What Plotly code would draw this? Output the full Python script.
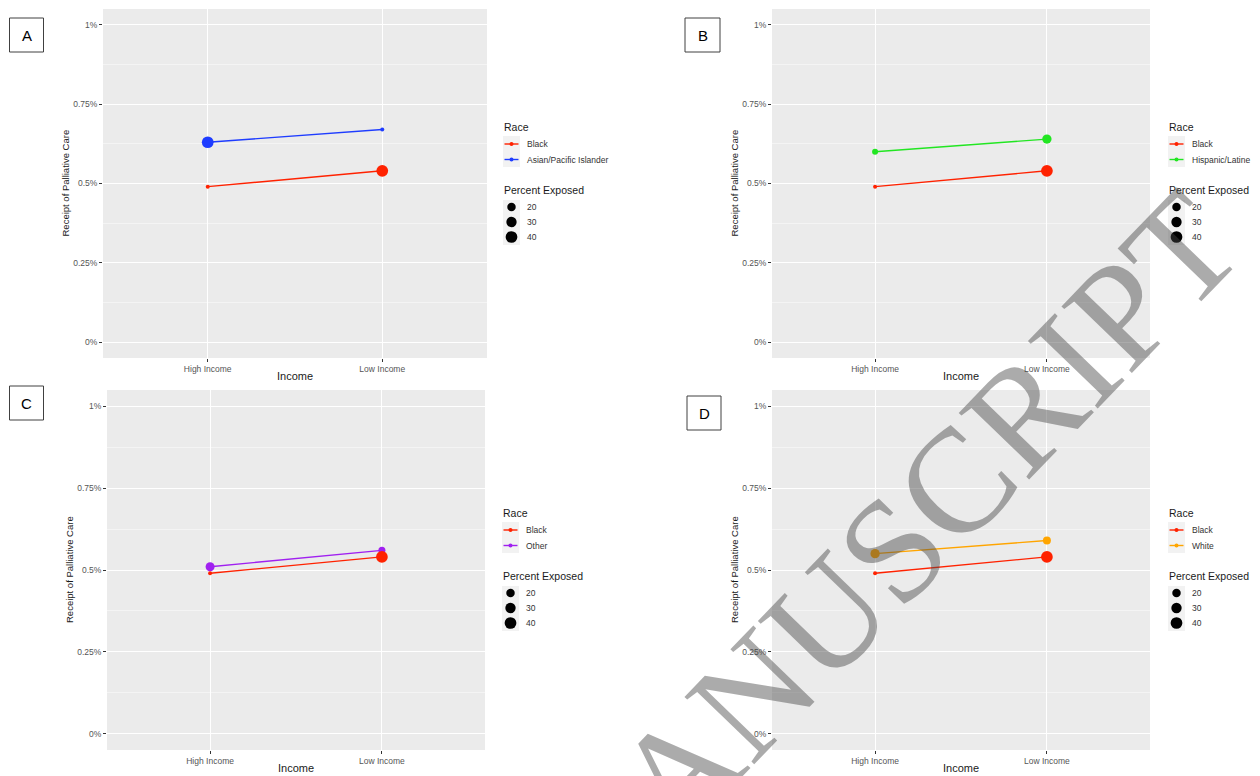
import math
import plotly.graph_objects as go

# ---------------- data ----------------
categories = ["High Income", "Low Income"]

black_rate = [0.49, 0.54]
black_pct = [10, 40]

api_rate = [0.63, 0.67]
api_pct = [40, 10]

hisp_rate = [0.60, 0.64]
hisp_pct = [12, 24]

other_rate = [0.51, 0.56]
other_pct = [22.5, 14.5]

white_rate = [0.55, 0.59]
white_pct = [24, 18]

y_tick_vals = [0, 0.25, 0.5, 0.75, 1.0]
y_tick_labels = ["0%", "0.25%", "0.5%", "0.75%", "1%"]
size_breaks = [20, 30, 40]

# ---------------- style ----------------
OX, OY = 8, 8            # page body margin offset
W, H = 1252, 768
FONT = "Liberation Sans, Arial, sans-serif"
C_BLACK = "#FF2200"
C_API = "#1E3CFF"
C_HISP = "#22E622"
C_OTHER = "#A020F0"
C_WHITE = "#FFA500"


def diam(v):
    return 4 + 8 * math.sqrt(max(v - 10, 0) / 32.0)


def px(x):
    return (x - OX) / W


def py(y):
    return 1 - (y - OY) / H


panels = [
    dict(tag="A", box=(9.5, 18, 43.5, 52), plot=(103, 9, 487, 358), leg_x=503, leg_dy=0,
         name="Asian/Pacific Islander", rate=api_rate, pct=api_pct, color=C_API),
    dict(tag="B", box=(685, 18, 720, 52), plot=(772, 9, 1150, 358), leg_x=1168, leg_dy=0,
         name="Hispanic/Latine", rate=hisp_rate, pct=hisp_pct, color=C_HISP),
    dict(tag="C", box=(9.5, 386, 43.5, 420), plot=(107, 390, 485, 750), leg_x=502, leg_dy=386,
         name="Other", rate=other_rate, pct=other_pct, color=C_OTHER),
    dict(tag="D", box=(687, 396, 721, 430), plot=(772, 390, 1150, 750), leg_x=1168, leg_dy=386,
         name="White", rate=white_rate, pct=white_pct, color=C_WHITE),
]

fig = go.Figure()
shapes = []
annotations = []
layout = {}

for i, p in enumerate(panels):
    n = "" if i == 0 else str(i + 1)
    xa, ya = "x" + n, "y" + n
    x0, y0, x1, y1 = p["plot"]
    layout["xaxis" + n] = dict(
        domain=[px(x0), px(x1)], anchor=ya, type="category",
        categoryorder="array", categoryarray=categories,
        range=[-0.6, 1.6], showgrid=True, gridcolor="white", gridwidth=1.1,
        zeroline=False, showline=False, ticks="outside", ticklen=3, tickwidth=1,
        tickcolor="#333333", tickfont=dict(family=FONT, size=8.5, color="#555555"),
        fixedrange=True,
    )
    layout["yaxis" + n] = dict(
        domain=[py(y1), py(y0)], anchor=xa, range=[-0.05, 1.05],
        tickvals=y_tick_vals, ticktext=y_tick_labels,
        showgrid=True, gridcolor="white", gridwidth=1.1,
        minor=dict(dtick=0.25, tick0=0.125, showgrid=True, gridcolor="#F4F4F4", gridwidth=0.6, ticks=""),
        zeroline=False, showline=False, ticks="outside", ticklen=3, tickwidth=1,
        tickcolor="#333333", tickfont=dict(family=FONT, size=8.5, color="#555555"),
        fixedrange=True,
    )
    series = [(p["name"], p["rate"], p["pct"], p["color"]),
              ("Black", black_rate, black_pct, C_BLACK)]
    for nm, r, pc, col in series:
        fig.add_trace(go.Scatter(x=categories, y=r, mode="lines", xaxis=xa, yaxis=ya,
                                 line=dict(color=col, width=1.4), showlegend=False,
                                 hoverinfo="skip"))
    for nm, r, pc, col in series:
        fig.add_trace(go.Scatter(x=categories, y=r, mode="markers", xaxis=xa, yaxis=ya,
                                 marker=dict(color=col, size=[diam(v) for v in pc], opacity=1,
                                             line=dict(width=0)),
                                 name=nm, showlegend=False))

    # axis titles
    cx = (x0 + x1) / 2
    annotations.append(dict(text="Income", x=px(cx), y=py(y1 + 18), xref="paper", yref="paper",
                            showarrow=False, font=dict(family=FONT, size=11, color="#1a1a1a"),
                            xanchor="center", yanchor="middle"))
    annotations.append(dict(text="Receipt of Palliative Care", x=px(x0 - 38), y=py((y0 + y1) / 2),
                            xref="paper", yref="paper", showarrow=False, textangle=-90,
                            font=dict(family=FONT, size=9.5, color="#1a1a1a"),
                            xanchor="center", yanchor="middle"))

    # panel tag box
    bx0, by0, bx1, by1 = p["box"]
    shapes.append(dict(type="rect", xref="paper", yref="paper", x0=px(bx0), x1=px(bx1),
                       y0=py(by1), y1=py(by0), line=dict(color="#404040", width=1),
                       fillcolor="white", layer="above"))
    annotations.append(dict(text=p["tag"], x=px((bx0 + bx1) / 2), y=py((by0 + by1) / 2),
                            xref="paper", yref="paper", showarrow=False,
                            font=dict(family=FONT, size=15, color="black"),
                            xanchor="center", yanchor="middle"))

    # legends (manual, ggplot style)
    lx = p["leg_x"]
    dy = p["leg_dy"]
    annotations.append(dict(text="Race", x=px(lx - 1), y=py(127 + dy), xref="paper", yref="paper",
                            showarrow=False, font=dict(family=FONT, size=10.5, color="#1a1a1a"),
                            xanchor="left", yanchor="middle"))
    shapes.append(dict(type="rect", xref="paper", yref="paper", x0=px(lx), x1=px(lx + 17),
                       y0=py(167 + dy), y1=py(136 + dy), line=dict(width=0), fillcolor="#F2F2F2",
                       layer="below"))
    for k, (nm, col) in enumerate([("Black", C_BLACK), (p["name"], p["color"])]):
        yy = 144 + 15.5 * k + dy
        shapes.append(dict(type="line", xref="paper", yref="paper", x0=px(lx + 1.5), x1=px(lx + 15.5),
                           y0=py(yy), y1=py(yy), line=dict(color=col, width=1.4)))
        shapes.append(dict(type="circle", xref="paper", yref="paper", xsizemode="pixel",
                           ysizemode="pixel", xanchor=px(lx + 8.5), yanchor=py(yy),
                           x0=-2, x1=2, y0=-2, y1=2, fillcolor=col, line=dict(width=0)))
        annotations.append(dict(text=nm, x=px(lx + 22), y=py(yy), xref="paper", yref="paper",
                                showarrow=False, font=dict(family=FONT, size=8.5, color="#333333"),
                                xanchor="left", yanchor="middle"))
    annotations.append(dict(text="Percent Exposed", x=px(lx - 1), y=py(190 + dy), xref="paper",
                            yref="paper", showarrow=False,
                            font=dict(family=FONT, size=10.5, color="#1a1a1a"),
                            xanchor="left", yanchor="middle"))
    shapes.append(dict(type="rect", xref="paper", yref="paper", x0=px(lx), x1=px(lx + 17),
                       y0=py(245 + dy), y1=py(200 + dy), line=dict(width=0), fillcolor="#F2F2F2",
                       layer="below"))
    for k, b in enumerate(size_breaks):
        yy = 207 + 15 * k + dy
        r = diam(b) / 2
        shapes.append(dict(type="circle", xref="paper", yref="paper", xsizemode="pixel",
                           ysizemode="pixel", xanchor=px(lx + 8.5), yanchor=py(yy),
                           x0=-r, x1=r, y0=-r, y1=r, fillcolor="black", line=dict(width=0)))
        annotations.append(dict(text=str(b), x=px(lx + 22), y=py(yy), xref="paper", yref="paper",
                                showarrow=False, font=dict(family=FONT, size=8.5, color="#333333"),
                                xanchor="left", yanchor="middle"))

# watermark
annotations.append(dict(text="MANUSCRIPT", x=px(881), y=py(561), xref="paper", yref="paper",
                        showarrow=False, textangle=-46,
                        font=dict(family="Liberation Serif, Times New Roman, serif", size=148,
                                  color="rgba(69,69,69,0.45)"),
                        xanchor="center", yanchor="middle"))

fig.update_layout(
    width=W, height=H, margin=dict(l=0, r=0, t=0, b=0),
    paper_bgcolor="white", plot_bgcolor="#EBEBEB",
    showlegend=False, shapes=shapes, annotations=annotations,
    font=dict(family=FONT),
    **layout,
)

fig.write_html("out.html")
